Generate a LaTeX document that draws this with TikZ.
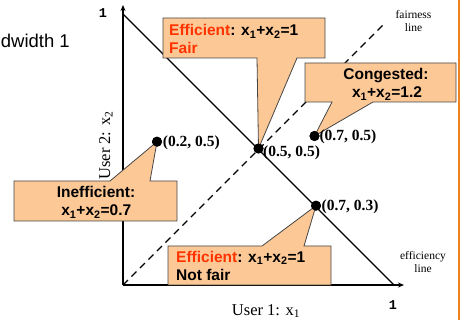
\documentclass[tikz,border=0pt]{standalone}
\usepackage{fontspec}
\setmainfont{Liberation Serif}[BoldFont={Liberation Serif Bold}]
\setsansfont{Liberation Sans}
\setmonofont{Liberation Mono}
\usetikzlibrary{arrows.meta}
\definecolor{calloutfill}{RGB}{252,200,150}
\definecolor{calloutedge}{RGB}{70,70,70}
\definecolor{effred}{RGB}{255,51,0}
\definecolor{rulecol}{RGB}{240,130,30}
\tikzset{
  boxtxt/.style={font=\sffamily\bfseries\fontsize{15.5}{18}\selectfont, inner sep=0pt},
  ptlabel/.style={font=\rmfamily\bfseries\fontsize{15.5}{17}\selectfont, inner sep=0pt, anchor=base west},
  dotnode/.style={circle, fill=black, minimum size=10pt, inner sep=0pt},
  callout/.style={fill=calloutfill, draw=calloutedge, line width=0.8pt, line join=miter},
  smalllabel/.style={font=\rmfamily\fontsize{11.5}{13.4}\selectfont, inner sep=0pt, anchor=base},
  axislabel/.style={font=\rmfamily\fontsize{16.5}{18}\selectfont, inner sep=0pt, anchor=base},
  onelabel/.style={font=\ttfamily\bfseries\fontsize{13.5}{15}\selectfont, inner sep=0pt},
  axisline/.style={line width=1.5pt, -{Stealth[length=6pt,width=5pt]}},
}
\begin{document}
\begin{tikzpicture}[x=1pt,y=-1pt]
\useasboundingbox (0,0) rectangle (471,320);
% right rule
\coordinate (r1) at (459,0);
\coordinate (r2) at (459,320);
\draw[rulecol, line width=2pt] (r1) -- (r2);
% cut-off title
\node[font=\sffamily\fontsize{18.5}{20}\selectfont, anchor=base east, inner sep=0pt] (bw) at (70,48) {dwidth 1};
% axes
\coordinate (O) at (123,285);
\coordinate (ytip) at (123,5);
\coordinate (xtip) at (404,285);
\coordinate (e1) at (123,14);
\coordinate (e2) at (394,285);
\coordinate (f2) at (385,23);
\draw[line width=1.2pt] (e1) -- (e2);
\draw[line width=1.2pt, dash pattern=on 7pt off 5pt] (O) -- (f2);
\draw[axisline] (O) -- (ytip);
\draw[axisline] (O) -- (xtip);
% dots
\node[dotnode] (d25) at (157,141.7) {};
\node[dotnode] (d55) at (258.5,148.5) {};
\node[dotnode] (d75) at (314.5,136) {};
\node[dotnode] (d73) at (316,205.7) {};
% callouts
\draw[callout] (163,18) -- (325,18) -- (325,58) -- (297,58) -- (d55.center) -- (257,58) -- (163,58) -- cycle;
\draw[callout] (305,63) -- (456,63) -- (456,102) -- (373,102) -- (d75.center) -- (332,102) -- (305,102) -- cycle;
\draw[callout] (14,181) -- (110,181) -- (d25.center) -- (150,181) -- (177,181) -- (177,221) -- (14,221) -- cycle;
\draw[callout] (168,246) -- (262,246) -- (d73.center) -- (304,246) -- (331,246) -- (331,285) -- (168,285) -- cycle;
% redraw dots on top
\fill (d25) circle (5pt);
\fill (d55) circle (5pt);
\fill (d75) circle (5pt);
\fill (d73) circle (5pt);
% callout texts
\node[boxtxt, anchor=base west] (c1a) at (169,36) {\textcolor{effred}{Efficient}: x\textsubscript{1}+x\textsubscript{2}=1};
\node[boxtxt, anchor=base west, text=effred] (c1b) at (169,54) {Fair};
\node[boxtxt, anchor=base] (c2a) at (386,80) {Congested:};
\node[boxtxt, anchor=base] (c2b) at (387,98) {x\textsubscript{1}+x\textsubscript{2}=1.2};
\node[boxtxt, anchor=base] (c3a) at (96,198) {Inefficient:};
\node[boxtxt, anchor=base] (c3b) at (96.3,215.7) {x\textsubscript{1}+x\textsubscript{2}=0.7};
\node[boxtxt, anchor=base west] (c4a) at (176,262) {\textcolor{effred}{Efficient}: x\textsubscript{1}+x\textsubscript{2}=1};
\node[boxtxt, anchor=base west] (c4b) at (176,280) {Not fair};
% point labels
\node[ptlabel] (l25) at (162.7,146.5) {(0.2, 0.5)};
\node[ptlabel] (l55) at (263,156.5) {(0.5, 0.5)};
\node[ptlabel] (l75) at (319.3,141) {(0.7, 0.5)};
\node[ptlabel] (l73) at (321.5,210.5) {(0.7, 0.3)};
% axis labels
\node[axislabel] (xlab) at (266,315) {User 1: x\textsubscript{1}};
\node[axislabel, rotate=90] (ylab) at (110,145.5) {User 2: x\textsubscript{2}};
\node[onelabel] (one1) at (103,13) {1};
\node[onelabel] (one2) at (393,305) {1};
% line labels
\node[smalllabel] (fl1) at (413.5,18.3) {fairness};
\node[smalllabel] (fl2) at (413.5,31.7) {line};
\node[smalllabel] (el1) at (423,260) {efficiency};
\node[smalllabel] (el2) at (423,272.7) {line};
\end{tikzpicture}
\end{document}
